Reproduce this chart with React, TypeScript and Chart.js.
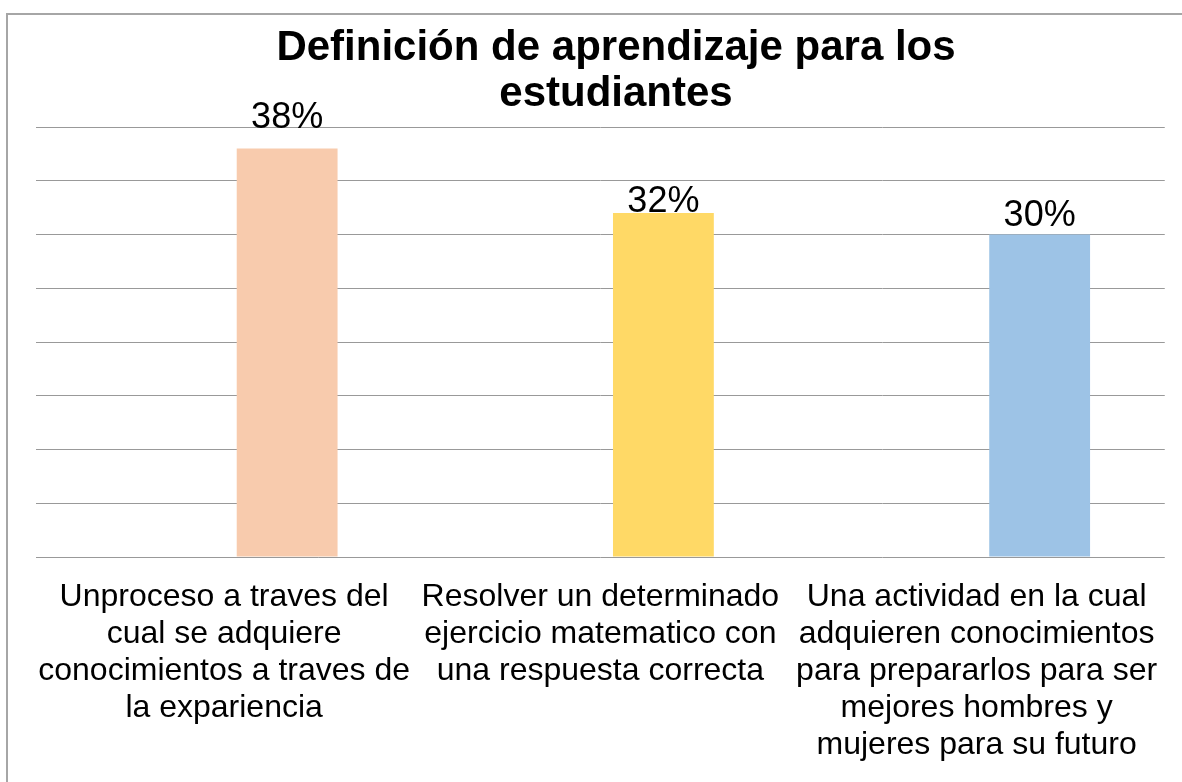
import React, { useEffect, useRef } from "react";
import { Chart, registerables } from "chart.js";

Chart.register(...registerables);

const categories: string[][] = [
  ["Unproceso a traves del", "cual se adquiere", "conocimientos a traves de", "la expariencia"],
  ["Resolver un determinado", "ejercicio matematico con", "una respuesta correcta"],
  ["Una actividad en la cual", "adquieren conocimientos", "para prepararlos para ser", "mejores hombres y", "mujeres para su futuro"],
];
const emptySeries: (number | null)[] = [null, null, null];
const values: number[] = [38, 32, 30];
const valueLabels: string[] = ["38%", "32%", "30%"];
const barColors: string[] = ["#F8CBAD", "#FFD966", "#9DC3E6"];
const titleLines: string[] = ["Definición de aprendizaje para los", "estudiantes"];

const FONT = "'Liberation Sans', Arial, Helvetica, sans-serif";

const framePlugin = {
  id: "frame",
  beforeDraw(chart: any) {
    const ctx = chart.ctx;
    ctx.save();
    ctx.strokeStyle = "#a6a6a6";
    ctx.lineWidth = 2;
    ctx.beginPath();
    ctx.moveTo(7, 782);
    ctx.lineTo(7, 14);
    ctx.lineTo(1182, 14);
    ctx.stroke();
    ctx.restore();
  },
};

const titlePlugin = {
  id: "customTitle",
  afterDraw(chart: any) {
    const ctx = chart.ctx;
    ctx.save();
    ctx.fillStyle = "#000000";
    ctx.font = `bold 42px ${FONT}`;
    ctx.textAlign = "center";
    ctx.textBaseline = "alphabetic";
    ctx.fillText(titleLines[0], 616, 60);
    ctx.fillText(titleLines[1], 616, 106);
    ctx.restore();
  },
};

const labelOffsets = [21, 1, 9];

const valueLabelPlugin = {
  id: "valueLabels",
  afterDatasetsDraw(chart: any) {
    const ctx = chart.ctx;
    const meta = chart.getDatasetMeta(1);
    ctx.save();
    ctx.fillStyle = "#000000";
    ctx.font = `36px ${FONT}`;
    ctx.textAlign = "center";
    ctx.textBaseline = "alphabetic";
    meta.data.forEach((bar: any, i: number) => {
      ctx.fillText(valueLabels[i], bar.x, bar.y - labelOffsets[i]);
    });
    ctx.restore();
  },
};

export default function App() {
  const canvasRef = useRef<HTMLCanvasElement | null>(null);

  useEffect(() => {
    if (!canvasRef.current) return;
    const chart = new Chart(canvasRef.current, {
      type: "bar",
      data: {
        labels: categories,
        datasets: [
          {
            data: emptySeries,
            backgroundColor: "rgba(0,0,0,0)",
            borderWidth: 0,
            categoryPercentage: 0.67,
            barPercentage: 0.8,
          },
          {
            data: values,
            backgroundColor: barColors,
            borderWidth: 0,
            categoryPercentage: 0.67,
            barPercentage: 0.8,
          },
        ],
      },
      options: {
        responsive: false,
        animation: false,
        devicePixelRatio: 1,
        layout: { padding: { left: 36, right: 17, top: 127, bottom: -4 } },
        plugins: {
          legend: { display: false },
          title: { display: false },
          tooltip: { enabled: false },
        },
        scales: {
          x: {
            grid: { display: false, drawTicks: false },
            border: { display: false },
            ticks: {
              color: "#000000",
              font: { family: FONT, size: 32, lineHeight: 1.156 },
              padding: 22,
              maxRotation: 0,
              minRotation: 0,
              autoSkip: false,
            },
          },
          y: {
            display: true,
            min: 0,
            max: 40,
            ticks: { display: false, stepSize: 5 },
            grid: { color: "#999999", lineWidth: 1, drawTicks: false },
            border: { display: false },
          },
        },
      },
      plugins: [framePlugin, titlePlugin, valueLabelPlugin],
    });
    return () => chart.destroy();
  }, []);

  return (
    <div style={{ position: "fixed", left: 0, top: 0, width: 1182, height: 782, background: "#ffffff" }}>
      <canvas ref={canvasRef} width={1182} height={782} />
    </div>
  );
}
